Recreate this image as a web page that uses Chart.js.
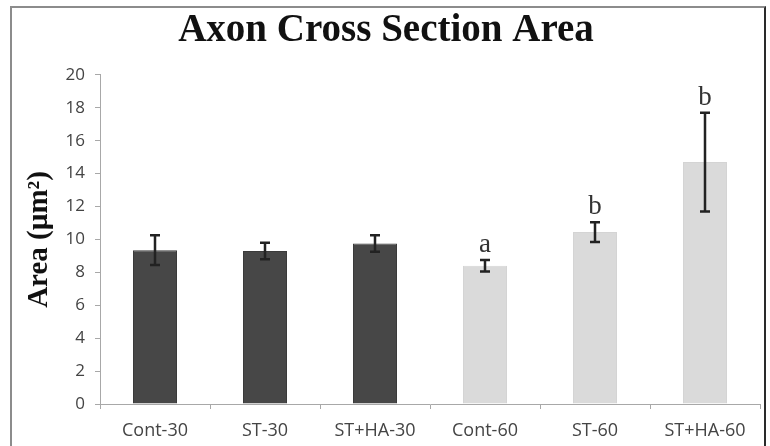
<!DOCTYPE html>
<html>
<head>
<meta charset="utf-8">
<script src="https://cdn.jsdelivr.net/npm/chart.js@4"></script>
<style>
  html, body { margin: 0; padding: 0; background: #fff; }
  #wrap { position: relative; width: 770px; height: 446px; }
  #frame { position: absolute; left: 10px; top: 6px; width: 752px; height: 460px;
           border-left: 2px solid #8c8c8c; border-top: 2px solid #8c8c8c; border-right: 2px solid #2a2a2a; }
  canvas { position: absolute; left: 0; top: 0; }
</style>
</head>
<body>
<div id="wrap">
  <div id="frame"></div>
  <canvas id="c" width="770" height="446"></canvas>
</div>
<script>
const categories = ["Cont-30", "ST-30", "ST+HA-30", "Cont-60", "ST-60", "ST+HA-60"];
const meanArea = [9.35, 9.3, 9.75, 8.4, 10.45, 14.7];
const errArea = [0.9, 0.5, 0.5, 0.35, 0.6, 3.0];
const sigLetters = ["", "", "", "a", "b", "b"];
const yTicks = [0, 2, 4, 6, 8, 10, 12, 14, 16, 18, 20];

const DARK = "#474747", LIGHT = "#dadada";

const errorBarPlugin = {
  id: "errorBars",
  afterDatasetsDraw(chart) {
    const ctx = chart.ctx;
    const x = chart.scales.x, y = chart.scales.y;
    ctx.save();
    categories.forEach((c, i) => {
      const cx = x.getPixelForValue(i);
      const top = y.getPixelForValue(meanArea[i] + errArea[i]);
      const bot = y.getPixelForValue(meanArea[i] - errArea[i]);
      ctx.strokeStyle = "#222";
      ctx.lineWidth = 2.5;
      ctx.beginPath();
      ctx.moveTo(cx, top); ctx.lineTo(cx, bot);
      ctx.moveTo(cx - 5, top); ctx.lineTo(cx + 5, top);
      ctx.moveTo(cx - 5, bot); ctx.lineTo(cx + 5, bot);
      ctx.stroke();
      if (sigLetters[i]) {
        ctx.fillStyle = "#333";
        ctx.font = "27px 'Liberation Serif', 'DejaVu Serif', serif";
        ctx.textAlign = "center";
        ctx.textBaseline = "alphabetic";
        ctx.fillText(sigLetters[i], cx, top - 8);
      }
    });
    ctx.restore();
  }
};

new Chart(document.getElementById("c"), {
  type: "bar",
  data: {
    labels: categories,
    datasets: [{
      data: meanArea,
      backgroundColor: categories.map((c, i) => i < 3 ? DARK : LIGHT),
      borderColor: categories.map((c, i) => i < 3 ? "#3a3a3a" : "#d4d4d4"),
      borderWidth: 1,
      categoryPercentage: 1.0,
      barPercentage: 0.4
    }]
  },
  options: {
    responsive: false,
    animation: false,
    devicePixelRatio: 1,
    layout: { padding: { left: 12, right: 10, top: 0, bottom: 0 } },
    plugins: {
      legend: { display: false },
      tooltip: { enabled: false },
      title: {
        display: true,
        text: "Axon Cross Section Area",
        color: "#111",
        font: { family: "'Liberation Serif', 'Times New Roman', serif", size: 39, weight: "bold", lineHeight: 1.1 },
        padding: { top: 9, bottom: 23 }
      }
    },
    scales: {
      y: {
        min: 0, max: 20,
        afterFit(s) { s.width = 88; },
        afterBuildTicks(s) { s.ticks = yTicks.map(v => ({ value: v })); },
        border: { display: true, color: "#a8a8a8", width: 1 },
        grid: { display: true, drawOnChartArea: false, drawTicks: true, tickLength: 5, color: "#a8a8a8" },
        ticks: { color: "#444", padding: 10, font: { family: "'Open Sans', sans-serif", size: 17 } },
        title: {
          display: true,
          text: "Area (µm²)",
          color: "#111",
          padding: { top: 10, bottom: 0 },
          font: { family: "'Liberation Serif', 'Times New Roman', serif", size: 29, weight: "bold" }
        }
      },
      x: {
        afterFit(s) { s.height = 42; },
        border: { display: true, color: "#a8a8a8", width: 1 },
        grid: { display: true, drawOnChartArea: false, drawTicks: true, tickLength: 5, color: "#a8a8a8", offset: true },
        ticks: { color: "#444", padding: 11, maxRotation: 0, font: { family: "'Open Sans', sans-serif", size: 18 } }
      }
    }
  },
  plugins: [errorBarPlugin]
});
</script>
</body>
</html>
